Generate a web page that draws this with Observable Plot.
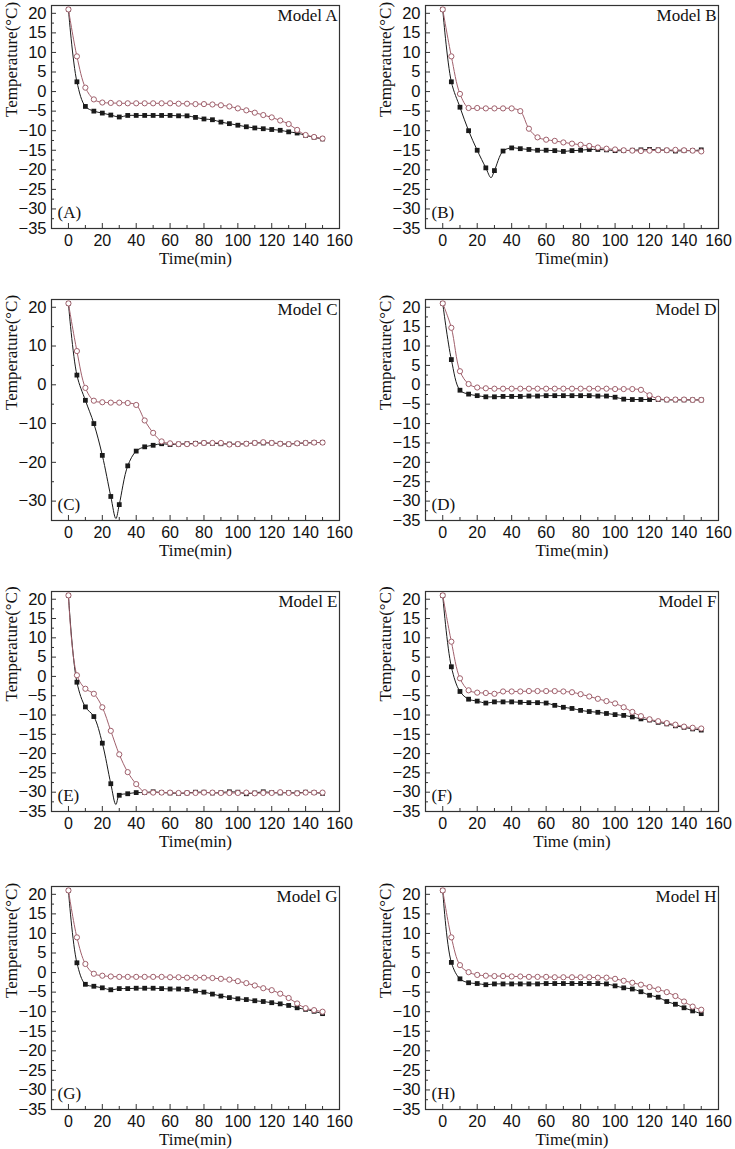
<!DOCTYPE html>
<html><head><meta charset="utf-8">
<script src="https://cdn.jsdelivr.net/npm/d3@7"></script>
<script src="https://cdn.jsdelivr.net/npm/@observablehq/plot@0.6"></script>
<style>
body{margin:0;background:#fff;}
#fig{position:relative;width:735px;height:1149px;overflow:hidden;background:#fff;}
.panel{position:absolute;}
</style></head><body><div id="fig"></div>
<script>
const times = [0,5,10,15,20,25,30,35,40,45,50,55,60,65,70,75,80,85,90,95,100,105,110,115,120,125,130,135,140,145,150];
const models = ["A","B","C","D","E","F","G","H"];

const blackA = [21,2.5,-3.8,-5,-5.5,-6,-6.5,-6.1,-6.1,-6.1,-6.1,-6.1,-6.1,-6.2,-6.2,-6.6,-7,-7.2,-7.8,-8.2,-8.6,-9,-9.3,-9.5,-9.7,-9.9,-10.3,-10.6,-11.2,-11.7,-12.1];
const mauveA = [21,9,1,-2,-2.8,-2.9,-3,-3,-3,-3,-3,-3,-3,-3.1,-3.1,-3.2,-3.2,-3.3,-3.5,-3.8,-4.3,-4.8,-5.4,-6,-6.6,-7.4,-8.3,-9.8,-11.1,-11.6,-12];
const blackB = [21,2.5,-4,-10,-15,-19.5,-20.2,-15.2,-14.4,-14.6,-14.8,-15,-15,-15.1,-15.3,-15.1,-15,-14.8,-14.8,-14.9,-15.1,-15.1,-15,-14.9,-14.8,-14.9,-15,-15.2,-15.1,-15.1,-14.9];
const mauveB = [21,9,-0.6,-4.2,-4.2,-4.3,-4.3,-4.3,-4.3,-5,-9.5,-11.7,-12.3,-12.6,-13,-13.3,-13.6,-13.9,-14.3,-14.6,-14.8,-15,-15.1,-15.2,-15.1,-15,-15,-14.9,-15,-15.1,-15.3];
const blackC = [21,2.5,-4,-10,-18.2,-28.8,-30.9,-20.9,-17.1,-16,-15.6,-15.2,-15.4,-15.3,-15.2,-15.1,-15,-15.1,-15.2,-15.3,-15.3,-15.2,-15,-15,-15,-15.2,-15.3,-15.1,-15,-14.9,-14.9];
const mauveC = [21,8.7,-0.8,-4.1,-4.5,-4.6,-4.6,-4.7,-5.2,-9.2,-12.4,-14.6,-15.1,-15.3,-15.3,-15.2,-15,-15,-15,-15.4,-15.3,-15.2,-15,-14.8,-15,-15.2,-15.3,-15.1,-15,-14.9,-14.9];
const blackD = [21,6.5,-1.4,-2.4,-2.8,-3.1,-3.1,-3,-3,-3,-2.9,-2.9,-2.8,-2.8,-2.8,-2.8,-2.8,-2.8,-2.9,-2.9,-3.2,-3.7,-3.8,-3.8,-3.8,-3.8,-3.9,-3.9,-3.9,-3.9,-3.9];
const mauveD = [21,14.7,3.5,0.2,-0.7,-0.9,-1,-1,-1,-1,-1,-1,-1,-1,-1,-1,-1,-1,-1,-1,-1.1,-1.1,-1.1,-1.3,-2.7,-3.6,-3.8,-3.8,-3.8,-3.9,-3.9];
const blackE = [21,-1.5,-7.9,-10.4,-17.3,-27.8,-30.8,-30.4,-30.1,-30.1,-29.9,-30.1,-30.2,-30.3,-30.2,-30,-30,-30.2,-30.1,-29.9,-30,-30.4,-30.2,-29.9,-30.1,-30.2,-30.1,-30.2,-30,-30.1,-30.3];
const mauveE = [21,0.3,-3.2,-4.5,-8,-14.1,-20.2,-24.8,-27.9,-30,-30.1,-30.1,-30.1,-30.2,-30.2,-30.2,-30.1,-30.1,-30.2,-30.2,-30.2,-30.1,-30.3,-30.2,-30.2,-30,-30.2,-30.3,-30.1,-30.1,-30.1];
const blackF = [21,2.5,-3.9,-5.9,-6.4,-6.9,-6.6,-6.6,-6.6,-6.7,-6.8,-6.8,-6.9,-7.5,-8,-8.3,-8.8,-9.1,-9.3,-9.6,-9.9,-10.1,-10.5,-11,-11.3,-11.9,-12.3,-12.8,-13.2,-13.6,-13.9];
const mauveF = [21,9,-0.5,-3.6,-4.2,-4.3,-4.5,-3.9,-3.9,-3.9,-3.8,-3.8,-3.8,-3.8,-3.9,-4.1,-4.6,-5.2,-5.8,-6.4,-7,-8,-9.2,-10.3,-11.1,-11.6,-12.1,-12.5,-13,-13.3,-13.5];
const blackG = [21,2.5,-3,-3.5,-3.9,-4.4,-4.1,-4.1,-4,-4,-4,-4.1,-4.2,-4.2,-4.3,-4.7,-5,-5.5,-6,-6.4,-6.7,-6.9,-7.2,-7.4,-7.7,-8,-8.4,-9,-9.4,-9.9,-10.5];
const mauveG = [21,9,2.2,-0.3,-0.8,-1,-1.1,-1.1,-1.1,-1.1,-1.1,-1.1,-1.2,-1.2,-1.3,-1.3,-1.3,-1.4,-1.6,-1.8,-2.2,-2.7,-3.3,-4,-4.5,-5.4,-6.5,-7.9,-9.1,-9.6,-10];
const blackH = [21,2.6,-1.6,-2.6,-2.8,-3.1,-2.9,-2.9,-2.9,-2.9,-2.9,-2.9,-2.8,-2.8,-2.8,-2.8,-2.8,-2.8,-2.8,-2.9,-3.4,-3.9,-4.2,-4.9,-5.8,-6.3,-7.4,-8.1,-9,-9.8,-10.5];
const mauveH = [21,9,1.9,0.1,-0.6,-0.8,-0.9,-0.9,-1,-1,-1.1,-1.1,-1.1,-1.2,-1.2,-1.2,-1.2,-1.2,-1.3,-1.3,-1.6,-2.1,-2.6,-3.1,-3.7,-4.3,-5,-6,-7.4,-8.7,-9.5];

// lowest vertex of the black line where it dips below the markers
const troughModels = ["B","C","E"];
const troughTimes = [28,28,28];
const troughTemps = [-22,-34.5,-33.2];

const xMajor = [0,20,40,60,80,100,120,140,160];
const xMinor = [10,30,50,70,90,110,130,150];
const yMajor = [20,15,10,5,0,-5,-10,-15,-20,-25,-30,-35];
const yMinor = [17.5,12.5,7.5,2.5,-2.5,-7.5,-12.5,-17.5,-22.5,-27.5,-32.5];
const yMajorC = [20,10,0,-10,-20,-30];
const yMinorC = [15,5,-5,-15,-25];
const xLabels = ["Time(min)","Time(min)","Time(min)","Time(min)","Time(min)","Time (min)","Time(min)","Time(min)"];
const yLabel = "Temperature(°C)";

const blackSeries = {A:blackA,B:blackB,C:blackC,D:blackD,E:blackE,F:blackF,G:blackG,H:blackH};
const mauveSeries = {A:mauveA,B:mauveB,C:mauveC,D:mauveD,E:mauveE,F:mauveF,G:mauveG,H:mauveH};

const rowTop = [5, 299, 591, 886];
const rowBottom = [228, 520, 811, 1109];
const serif = "'Liberation Serif', 'Times New Roman', serif";
const sans = "'Liberation Sans', Arial, sans-serif";
const MAUVE = "#a0606c";
const BLACK = "#1a1a1a";

const fig = document.getElementById("fig");

models.forEach((m, i) => {
  const col = i % 2, row = Math.floor(i / 2);
  const W = 367;
  const mL = col ? 57 : 51, mR = col ? 17 : 28;
  const mT = 5, mB = 48;
  const fh = rowBottom[row] - rowTop[row];
  const fw = W - mL - mR;
  const H = mT + fh + mB;

  const bPts = times.map((t, k) => ({t, v: blackSeries[m][k]}));
  const mPts = times.map((t, k) => ({t, v: mauveSeries[m][k]}));
  const bLine = bPts.slice();
  const ti = troughModels.indexOf(m);
  if (ti >= 0) { bLine.push({t: troughTimes[ti], v: troughTemps[ti]}); bLine.sort((a, b) => a.t - b.t); }

  const isC = m === "C";
  const yMaj = isC ? yMajorC : yMajor;
  const yMin = isC ? yMinorC : yMinor;

  const svg = Plot.plot({
    width: W, height: H,
    marginLeft: mL, marginRight: mR, marginTop: mT, marginBottom: mB,
    x: {domain: [-10, 160]},
    y: {domain: [-35, 22]},
    style: {fontFamily: sans, fontSize: "16px", background: "#fff", color: "#111"},
    marks: [
      Plot.tickY(yMaj, {y: d => d, insetRight: fw - 5, stroke: "#333"}),
      Plot.tickY(yMin, {y: d => d, insetRight: fw - 3, stroke: "#333"}),
      Plot.tickX(xMajor, {x: d => d, insetTop: fh - 5, stroke: "#333"}),
      Plot.tickX(xMinor, {x: d => d, insetTop: fh - 3, stroke: "#333"}),
      Plot.axisY({ticks: yMaj, tickSize: 0, tickPadding: 5, label: null, fontSize: 16.5, fontFamily: sans}),
      Plot.axisX({ticks: xMajor, tickSize: 0, tickPadding: 6, label: null, fontSize: 16, fontFamily: sans}),
      Plot.frame({stroke: "#333", strokeWidth: 1.2}),
      Plot.line(bLine, {x: "t", y: "v", curve: "catmull-rom", stroke: BLACK, strokeWidth: 1}),
      Plot.line(mPts, {x: "t", y: "v", curve: "catmull-rom", stroke: MAUVE, strokeWidth: 1}),
      Plot.dot(bPts, {x: "t", y: "v", symbol: "square", r: 2.7, fill: BLACK, stroke: "none"}),
      Plot.dot(mPts, {x: "t", y: "v", symbol: "circle", r: 2.6, fill: "#fff", stroke: MAUVE, strokeWidth: 1}),
      Plot.text(["Model " + m], {frameAnchor: "top-right", dx: -2, dy: 3, fontFamily: serif, fontSize: 17, fill: "#111"}),
      Plot.text(["(" + m + ")"], {frameAnchor: "bottom-left", lineAnchor: "middle", dx: 6, dy: -16, fontFamily: serif, fontSize: 17, fill: "#111"}),
      Plot.text([xLabels[i]], {frameAnchor: "bottom", lineAnchor: "middle", dy: 30, fontFamily: serif, fontSize: 17, fill: "#111"}),
      Plot.text([yLabel], {frameAnchor: "left", lineAnchor: "middle", dx: -40, rotate: -90, fontFamily: serif, fontSize: 17, fill: "#111"})
    ]
  });
  const div = document.createElement("div");
  div.className = "panel";
  div.style.left = (col ? 368 : 0) + "px";
  div.style.top = (rowTop[row] - mT) + "px";
  div.appendChild(svg);
  fig.appendChild(div);
});
</script>
</body></html>
